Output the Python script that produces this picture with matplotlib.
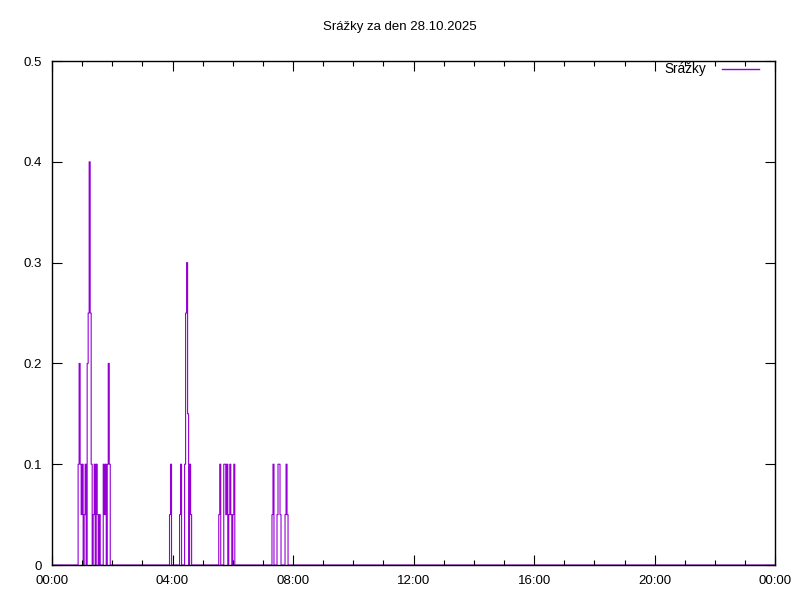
import matplotlib.pyplot as plt
from matplotlib.ticker import MultipleLocator
import numpy as np

# rain gauge readings (minute of day, mm); all other 2-min samples are zero
rain_minutes = [52, 54, 56, 58, 60, 64, 66, 70, 72, 74, 76, 78, 82, 84, 88, 90, 94,
                102, 104, 106, 110, 112, 114,
                234, 236, 254, 256, 264, 266, 268, 270, 274, 276,
                332, 334, 342, 344, 346, 348, 352, 354, 356, 360, 362,
                438, 440, 448, 450, 452, 454, 464, 466, 468]
rain_values = [0.1, 0.2, 0.1, 0.05, 0.1, 0.05, 0.1, 0.2, 0.25, 0.4, 0.25, 0.1, 0.05, 0.1, 0.1, 0.05, 0.05,
               0.1, 0.05, 0.1, 0.1, 0.2, 0.1,
               0.05, 0.1, 0.05, 0.1, 0.1, 0.25, 0.3, 0.15, 0.1, 0.05,
               0.05, 0.1, 0.1, 0.1, 0.05, 0.1, 0.05, 0.1, 0.05, 0.05, 0.1,
               0.05, 0.1, 0.05, 0.1, 0.1, 0.05, 0.05, 0.1, 0.05]

xtick_labels = ['00:00', '04:00', '08:00', '12:00', '16:00', '20:00', '00:00']
yticks = [0, 0.1, 0.2, 0.3, 0.4, 0.5]
ytick_labels = ['0', '0.1', '0.2', '0.3', '0.4', '0.5']
title = 'Srážky za den 28.10.2025'
series_name = 'Srážky'


def main():
    minutes = np.arange(0, 1441, 2)
    values = np.zeros(len(minutes))
    for m, v in zip(rain_minutes, rain_values):
        values[m // 2] = v
    hours = minutes / 60.0

    plt.rcParams['font.family'] = ['Liberation Sans', 'DejaVu Sans']
    fig = plt.figure(figsize=(8, 6), dpi=100)
    ax = fig.add_axes([0.065, 0.0583, 0.904, 0.8400])

    ax.plot(hours, values, drawstyle='steps-post', color='#9400d3', lw=0.8,
            label=series_name, zorder=1)

    ax.set_xlim(0, 24)
    ax.set_ylim(0, 0.5)
    ax.set_xticks(np.arange(0, 25, 4))
    ax.set_xticklabels(xtick_labels)
    ax.xaxis.set_minor_locator(MultipleLocator(1))
    ax.set_yticks(yticks)
    ax.set_yticklabels(ytick_labels)

    ax.tick_params(which='both', direction='in', top=True, right=True,
                   labelsize=9.5, width=0.8, colors='black')
    ax.tick_params(which='major', length=7, pad=7)
    ax.tick_params(which='minor', length=3.5)
    for s in ax.spines.values():
        s.set_linewidth(1.0)
        s.set_zorder(3)

    fig.text(0.5, 0.955, title, ha='center', va='center', fontsize=9.5)

    leg = ax.legend(loc='upper right', frameon=False, markerfirst=False,
                    fontsize=9.8, handlelength=2.7, handletextpad=1.2,
                    borderaxespad=0.0, bbox_to_anchor=(0.985, 1.008))
    for h in leg.get_lines():
        h.set_linewidth(1.0)
        h.set_color('#9400d3')

    fig.savefig('out.png', dpi=100)
    plt.close()


if __name__ == "__main__":
    main()
